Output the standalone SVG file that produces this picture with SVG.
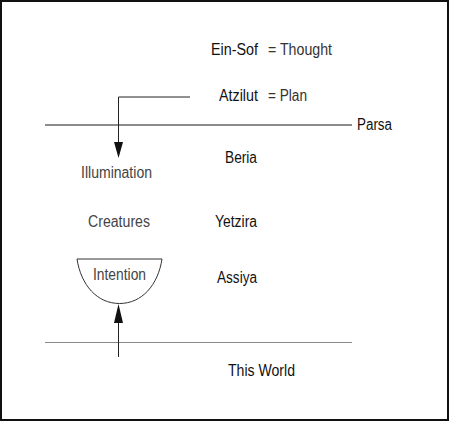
<svg xmlns="http://www.w3.org/2000/svg" width="450" height="422" viewBox="0 0 450 422">
<style>
text{font-family:"Liberation Sans",Arial,sans-serif;font-size:16px}
.k{fill:#111}
.g{fill:#444}
.c{stroke:#222;stroke-width:1;fill:none}
.h{fill:#111;stroke:none}
</style>
<rect x="0" y="0" width="450" height="422" fill="#fff"/>
<rect x="1" y="1" width="447" height="419" fill="none" stroke="#111" stroke-width="2"/>
<g id="levels">
<line x1="45" y1="125" x2="352" y2="125" stroke="#666" stroke-width="1.5"/>
<line x1="45" y1="342.5" x2="352" y2="342.5" stroke="#888" stroke-width="1"/>
</g>
<g id="ein-sof"><text class="k" x="211" y="55" textLength="47" lengthAdjust="spacingAndGlyphs">Ein-Sof</text><text fill="#333" x="268" y="55" textLength="64" lengthAdjust="spacingAndGlyphs">= Thought</text></g>
<g id="atzilut"><text class="k" x="219" y="101" textLength="39" lengthAdjust="spacingAndGlyphs">Atzilut</text><text fill="#333" x="268" y="101" textLength="39" lengthAdjust="spacingAndGlyphs">= Plan</text></g>
<g id="parsa"><text class="k" x="357" y="130" textLength="35" lengthAdjust="spacingAndGlyphs">Parsa</text></g>
<g id="beria"><text class="k" x="225" y="163" textLength="32" lengthAdjust="spacingAndGlyphs">Beria</text></g>
<g id="illumination"><text class="g" x="81" y="178" textLength="71" lengthAdjust="spacingAndGlyphs">Illumination</text></g>
<g id="creatures"><text class="g" x="88" y="227" textLength="62" lengthAdjust="spacingAndGlyphs">Creatures</text></g>
<g id="yetzira"><text class="k" x="215" y="227" textLength="42" lengthAdjust="spacingAndGlyphs">Yetzira</text></g>
<g id="intention">
<path d="M77,259 H162 C158,285 142,303.5 119.5,303.5 C97,303.5 81,285 77,259 Z" fill="#fff" stroke="#333" stroke-width="1"/>
<text class="g" x="93" y="280" textLength="53" lengthAdjust="spacingAndGlyphs">Intention</text>
</g>
<g id="assiya"><text class="k" x="217" y="283" textLength="40" lengthAdjust="spacingAndGlyphs">Assiya</text></g>
<g id="this-world"><text class="k" x="228" y="376" textLength="67" lengthAdjust="spacingAndGlyphs">This World</text></g>
<g id="connectors">
<path class="c" d="M190,97 H118.5 V143"/>
<polygon class="h" points="114,142 123,142 118.5,158"/>
<line class="c" x1="118.5" y1="357" x2="118.5" y2="322"/>
<polygon class="h" points="114,323 123,323 118.5,304"/>
</g>
</svg>
